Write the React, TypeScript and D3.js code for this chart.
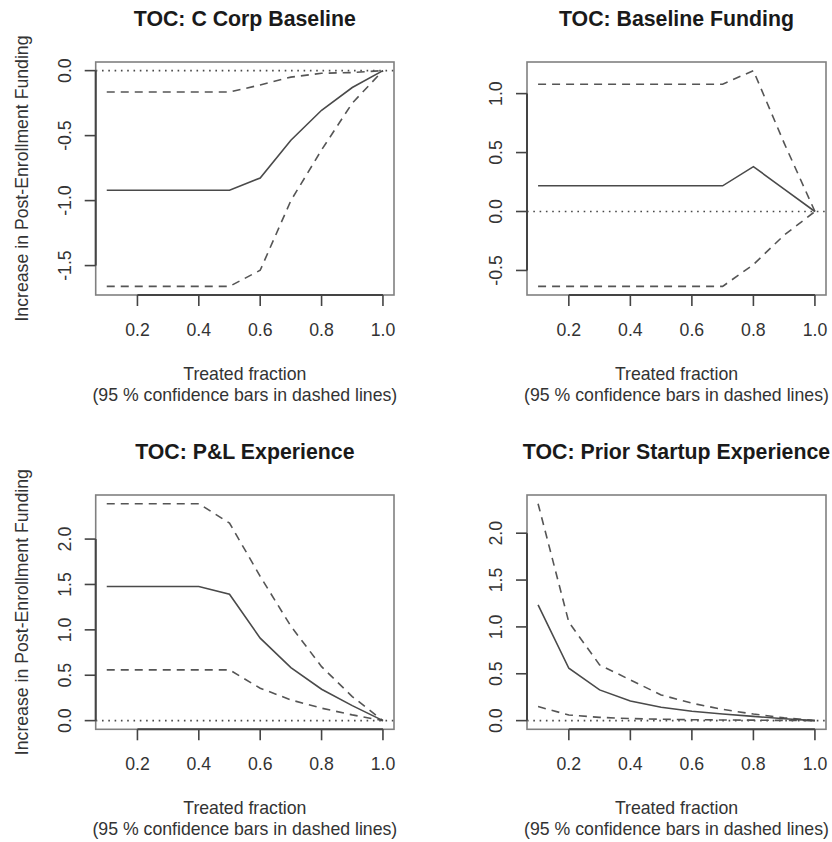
import React from "react";
import * as d3 from "d3";

const fractions = [0.1, 0.2, 0.3, 0.4, 0.5, 0.6, 0.7, 0.8, 0.9, 1.0];
const xTicks = [0.2, 0.4, 0.6, 0.8, 1.0];

const titles = [
  "TOC: C Corp Baseline",
  "TOC: Baseline Funding",
  "TOC: P&L Experience",
  "TOC: Prior Startup Experience",
];

const cCorpEst = [-0.92, -0.92, -0.92, -0.92, -0.92, -0.826, -0.536, -0.305, -0.13, 0];
const cCorpUpper = [-0.165, -0.165, -0.165, -0.165, -0.165, -0.11, -0.05, -0.02, -0.015, 0];
const cCorpLower = [-1.66, -1.66, -1.66, -1.66, -1.66, -1.536, -1.0, -0.61, -0.25, 0];

const fundEst = [0.218, 0.218, 0.218, 0.218, 0.218, 0.218, 0.218, 0.381, 0.19, 0];
const fundUpper = [1.08, 1.08, 1.08, 1.08, 1.08, 1.08, 1.08, 1.195, 0.58, 0];
const fundLower = [-0.635, -0.635, -0.635, -0.635, -0.635, -0.635, -0.635, -0.45, -0.2, 0];

const plEst = [1.477, 1.477, 1.477, 1.477, 1.393, 0.908, 0.584, 0.346, 0.165, 0];
const plUpper = [2.39, 2.39, 2.39, 2.39, 2.176, 1.59, 1.04, 0.595, 0.265, 0];
const plLower = [0.559, 0.559, 0.559, 0.559, 0.559, 0.357, 0.228, 0.137, 0.063, 0];

const psEst = [1.235, 0.559, 0.328, 0.21, 0.143, 0.1, 0.07, 0.045, 0.02, 0];
const psUpper = [2.315, 1.05, 0.595, 0.434, 0.274, 0.186, 0.12, 0.07, 0.03, 0];
const psLower = [0.15, 0.06, 0.035, 0.022, 0.015, 0.01, 0.007, 0.005, 0.002, 0];

const yTicksList = [
  [-1.5, -1.0, -0.5, 0.0],
  [-0.5, 0.0, 0.5, 1.0],
  [0.0, 0.5, 1.0, 1.5, 2.0],
  [0.0, 0.5, 1.0, 1.5, 2.0],
];

const seriesList = [
  [cCorpEst, cCorpUpper, cCorpLower],
  [fundEst, fundUpper, fundLower],
  [plEst, plUpper, plLower],
  [psEst, psUpper, psLower],
];

const yLabel = "Increase in Post-Enrollment Funding";
const xLabel1 = "Treated fraction";
const xLabel2 = "(95 % confidence bars in dashed lines)";

const boxes = [
  { left: 95.7, right: 394, top: 62, bottom: 295, showY: true },
  { left: 527, right: 826, top: 62, bottom: 295, showY: false },
  { left: 95.7, right: 394, top: 495, bottom: 729.3, showY: true },
  { left: 527, right: 826, top: 495, bottom: 729.3, showY: false },
];

const FONT = "'Liberation Sans', Arial, Helvetica, sans-serif";
const LINE = "#4a4a4a";
const FS = 17.7;

function extend(lo: number, hi: number): [number, number] {
  const r = hi - lo;
  return [lo - 0.04 * r, hi + 0.04 * r];
}

function Panel({ idx }: { idx: number }) {
  const b = boxes[idx];
  const [est, up, lo] = seriesList[idx];
  const all = [...est, ...up, ...lo, 0];
  const [ymin, ymax] = extend(d3.min(all)!, d3.max(all)!);
  const [xmin, xmax] = extend(0.1, 1.0);
  const x = d3.scaleLinear().domain([xmin, xmax]).range([b.left, b.right]);
  const y = d3.scaleLinear().domain([ymin, ymax]).range([b.bottom, b.top]);
  const line = d3
    .line<number>()
    .x((_, i) => x(fractions[i]))
    .y((v) => y(v));
  const yTicks = yTicksList[idx];
  const tickLen = 11;
  const cx = (b.left + b.right) / 2;
  const cy = (b.top + b.bottom) / 2;
  return (
    <g>
      <text
        x={cx}
        y={b.top - 36}
        textAnchor="middle"
        fontFamily={FONT}
        fontWeight="bold"
        fontSize={21.3}
        fill="#1a1a1a"
      >
        {titles[idx]}
      </text>
      <line
        x1={b.left}
        x2={b.right}
        y1={y(0)}
        y2={y(0)}
        stroke={LINE}
        strokeWidth={1.6}
        strokeDasharray="1.6 4.7"
      />
      <path d={line(up)!} fill="none" stroke="#555" strokeWidth={1.6} strokeDasharray="8 6" />
      <path d={line(lo)!} fill="none" stroke="#555" strokeWidth={1.6} strokeDasharray="8 6" />
      <path d={line(est)!} fill="none" stroke={LINE} strokeWidth={1.6} />
      <rect
        x={b.left}
        y={b.top}
        width={b.right - b.left}
        height={b.bottom - b.top}
        fill="none"
        stroke="#808080"
        strokeWidth={1.6}
      />
      <line
        x1={x(xTicks[0])}
        x2={x(xTicks[xTicks.length - 1])}
        y1={b.bottom}
        y2={b.bottom}
        stroke="#444"
        strokeWidth={2}
      />
      {xTicks.map((t) => (
        <g key={t}>
          <line x1={x(t)} x2={x(t)} y1={b.bottom} y2={b.bottom + tickLen} stroke="#444" strokeWidth={1.6} />
          <text
            x={x(t)}
            y={b.bottom + 41}
            textAnchor="middle"
            fontFamily={FONT}
            fontSize={FS}
            fill="#333"
          >
            {t.toFixed(1)}
          </text>
        </g>
      ))}
      <line
        x1={b.left}
        x2={b.left}
        y1={y(yTicks[0])}
        y2={y(yTicks[yTicks.length - 1])}
        stroke="#444"
        strokeWidth={2}
      />
      {yTicks.map((t) => (
        <g key={t}>
          <line x1={b.left - tickLen} x2={b.left} y1={y(t)} y2={y(t)} stroke="#444" strokeWidth={1.6} />
          <text
            transform={`translate(${b.left - 25},${y(t)}) rotate(-90)`}
            textAnchor="middle"
            fontFamily={FONT}
            fontSize={FS}
            fill="#333"
          >
            {t.toFixed(1)}
          </text>
        </g>
      ))}
      <text
        x={cx}
        y={b.bottom + 85}
        textAnchor="middle"
        fontFamily={FONT}
        fontSize={FS}
        fill="#333"
      >
        {xLabel1}
      </text>
      <text
        x={cx}
        y={b.bottom + 106}
        textAnchor="middle"
        fontFamily={FONT}
        fontSize={FS}
        fill="#333"
      >
        {xLabel2}
      </text>
      {b.showY && (
        <text
          transform={`translate(${b.left - 68},${cy}) rotate(-90)`}
          textAnchor="middle"
          fontFamily={FONT}
          fontSize={FS}
          fill="#333"
        >
          {yLabel}
        </text>
      )}
    </g>
  );
}

export default function App() {
  return (
    <svg
      width={832}
      height={842}
      style={{ position: "absolute", left: 0, top: 0, background: "#fff" }}
    >
      <rect width={832} height={842} fill="#fff" />
      {[0, 1, 2, 3].map((i) => (
        <Panel key={i} idx={i} />
      ))}
    </svg>
  );
}
